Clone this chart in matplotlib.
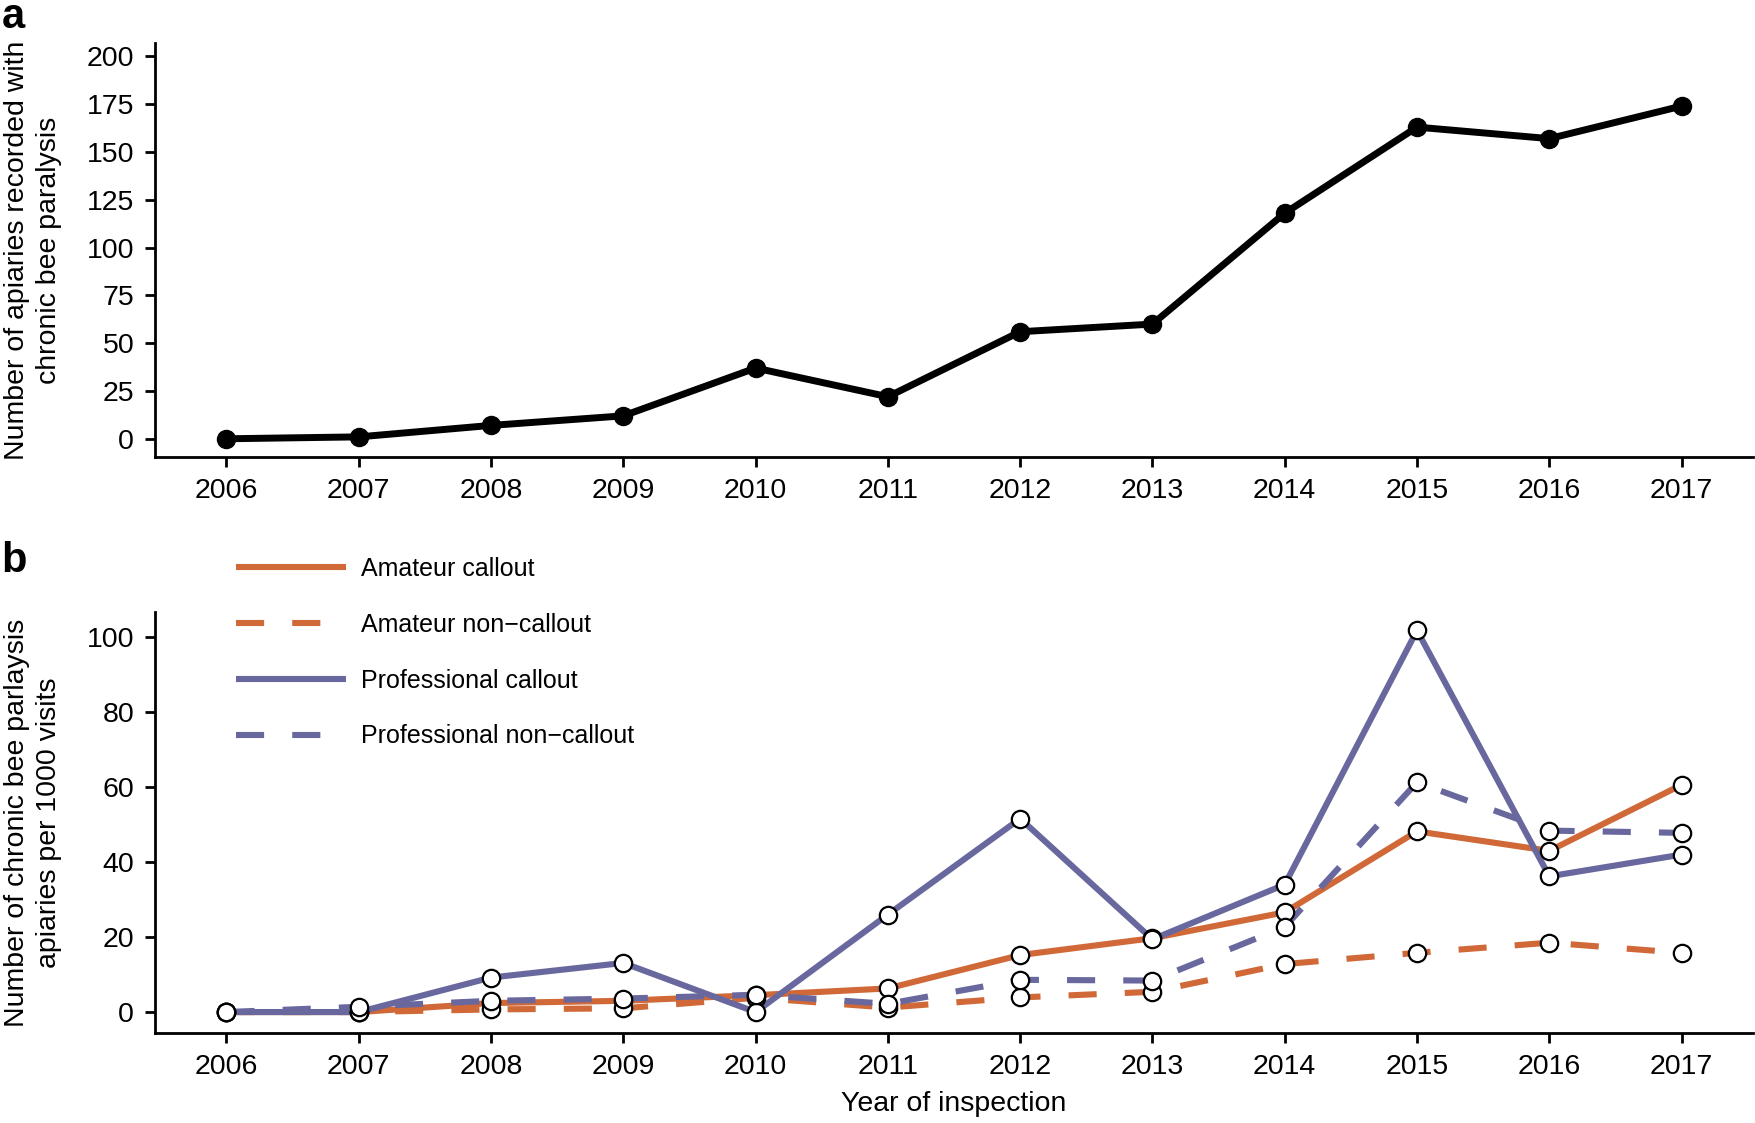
import matplotlib
matplotlib.use("Agg")
import matplotlib.pyplot as plt
import numpy as np

plt.rcParams['font.family'] = ['Liberation Sans', 'DejaVu Sans']

years = np.arange(2006, 2018)

# panel a: apiaries with chronic bee paralysis
apiaries = [0, 1, 7, 12, 37, 22, 56, 60, 118, 163, 157, 174]

# panel b: cases per 1000 visits
amateur_callout = [0, 0, 2.4, 3.0, 4.5, 6.3, 15.2, 19.7, 26.6, 48.2, 43.0, 60.6]
amateur_noncallout = [0, 0, 0.7, 1.0, 3.8, 1.2, 3.9, 5.4, 12.8, 15.8, 18.5, 15.8]
prof_callout = [0, 0, 9.2, 13.1, 0, 26.0, 51.6, 19.4, 34.0, 101.8, 36.2, 42.0]
prof_noncallout = [0, 1.4, 3.0, 3.6, 4.6, 2.2, 8.6, 8.4, 22.7, 61.3, 48.4, 47.8]

orange = "#D06937"
purple = "#68689E"

fig = plt.figure(figsize=(17.56, 11.23), dpi=100)

def style_axes(ax):
    for s in ['top', 'right']:
        ax.spines[s].set_visible(False)
    for s in ['left', 'bottom']:
        ax.spines[s].set_linewidth(2.0)
    ax.tick_params(axis='both', length=7, width=2.0, labelsize=20.5, pad=8)
    ax.set_xticks(years)
    ax.set_xlim(2005.46, 2017.54)

# --- panel a
ax1 = fig.add_axes([0.0883, 0.5931, 0.910, 0.3686])
style_axes(ax1)
ax1.plot(years, apiaries, color='black', lw=5.0, marker='o', ms=13, mfc='black', mec='black')
ax1.set_ylim(-9.5, 207)
ax1.set_yticks(np.arange(0, 201, 25))
fig.text(0.0188, 0.7774, "Number of apiaries recorded with\nchronic bee paralysis",
         rotation=90, ha='center', va='center', fontsize=20.5, linespacing=1.3,
         multialignment='center')
fig.text(0.001, 0.985, "a", fontsize=30, fontweight='bold', va='center', ha='left')

# --- panel b
ax2 = fig.add_axes([0.0883, 0.0801, 0.910, 0.3749])
style_axes(ax2)
ax2.set_ylim(-5.6, 106.7)
ax2.set_yticks(np.arange(0, 101, 20))

dash = (4.6, 4.6)
series = [
    (amateur_callout, orange, '-', "Amateur callout"),
    (amateur_noncallout, orange, '--', "Amateur non\u2212callout"),
    (prof_callout, purple, '-', "Professional callout"),
    (prof_noncallout, purple, '--', "Professional non\u2212callout"),
]
handles = []
for vals, col, ls, lab in series:
    line, = ax2.plot(years, vals, color=col, lw=4.4, label=lab, zorder=2,
                     solid_capstyle='butt', dash_capstyle='butt')
    if ls == '--':
        line.set_dashes(dash)
    handles.append(line)
for vals, col, ls, lab in series:
    ax2.plot(years, vals, ls='none', marker='o', ms=12.5, mfc='white', mec='black',
             mew=1.6, zorder=3)

ax2.legend(handles=handles, loc='upper left', bbox_to_anchor=(0.127, 0.515),
           bbox_transform=fig.transFigure, frameon=False, fontsize=18,
           handlelength=4.4, handletextpad=0.6, labelspacing=1.27, borderpad=0)

ax2.set_xlabel("Year of inspection", fontsize=20.5, labelpad=8)
fig.text(0.0188, 0.2676, "Number of chronic bee parlaysis\napiaries per 1000 visits",
         rotation=90, ha='center', va='center', fontsize=20.5, linespacing=1.3,
         multialignment='center')
fig.text(0.001, 0.5, "b", fontsize=30, fontweight='bold', va='center', ha='left')

fig.savefig("out.png", dpi=100)
